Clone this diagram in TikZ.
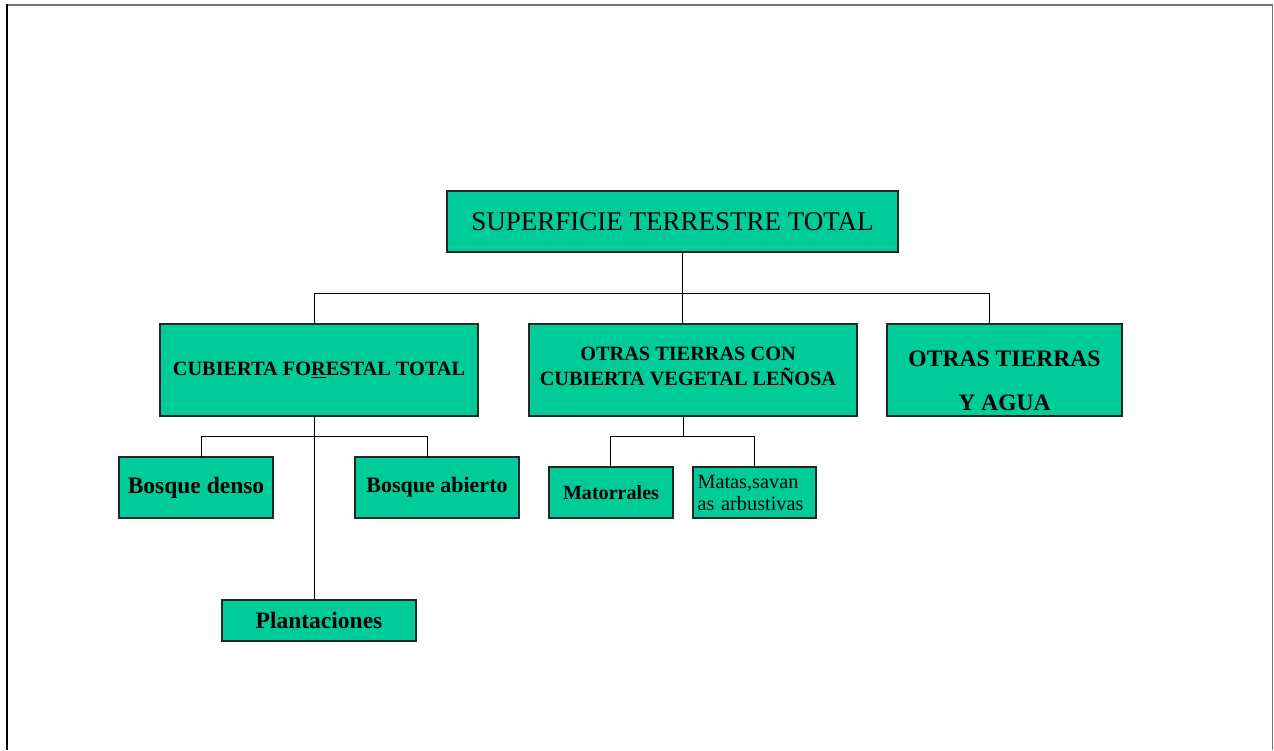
\documentclass[tikz,border=0pt]{standalone}
\usepackage{fontspec}
\setmainfont{Liberation Serif}
\definecolor{boxgreen}{RGB}{0,204,153}
\begin{document}
\begin{tikzpicture}[x=1pt,y=-1pt,
  box/.style={draw=black!85, line width=1.3pt, fill=boxgreen, inner sep=0pt, outer sep=0pt, align=center, text=black},
  conn/.style={draw=black, line width=1pt},
  frameside/.style={line width=1.5pt, draw=black!55},
  fs/.style 2 args={font=\fontsize{#1}{#2}\selectfont},
  bfs/.style 2 args={font=\fontsize{#1}{#2}\selectfont\bfseries}]
\useasboundingbox (0,0) rectangle (1274,750);
% outer frame
\draw[frameside] (7,5) -- (1272.5,5) -- (1272.5,750);
\draw[line width=2.2pt, draw=black] (7,4.3) -- (7,750);

% nodes
\node[box, fs={27}{32}, minimum width=451pt, minimum height=61pt] (root) at (672.5,221.5) {SUPERFICIE TERRESTRE TOTAL};
\node[box, bfs={20.3}{25}, minimum width=318pt, minimum height=92pt] (c1) at (319,370) {CUBIERTA FO\underline{R}ESTAL TOTAL};
\node[box, bfs={20.3}{25}, text height=30pt, text depth=0pt, minimum width=328pt, minimum height=92pt] (c2) at (693,370) {OTRAS TIERRAS CON\hspace*{10pt}\\CUBIERTA VEGETAL LEÑOSA\hspace*{10pt}};
\node[box, bfs={23.6}{44}, text height=80pt, text depth=0pt, minimum width=235pt, minimum height=92pt] (c3) at (1004.5,370) {OTRAS TIERRAS\\Y AGUA};
\node[box, bfs={23.5}{28}, minimum width=154pt, minimum height=61pt] (bd) at (196,487.5) {Bosque denso};
\node[box, bfs={22}{28}, minimum width=164pt, minimum height=61pt] (ba) at (437,487.5) {Bosque abierto};
\node[box, bfs={23.5}{28}, minimum width=194pt, minimum height=41pt] (pl) at (319,620.5) {Plantaciones};
\node[box, bfs={20.1}{24}, minimum width=124pt, minimum height=51pt] (mt) at (611,492.5) {Matorrales};
\node[box, fs={20.3}{22}, align=left, inner xsep=4.5pt, text width=114pt, minimum width=123pt, minimum height=51pt] (ms) at (754.5,492.5) {Matas,savan\\as arbustivas};

% connector junctions
\coordinate (jl) at (314,293);
\coordinate (jm) at (682,293);
\coordinate (jr) at (989,293);
\coordinate (ka) at (201,436);
\coordinate (kb) at (427,436);
\coordinate (kc) at (314,436);
\coordinate (ma) at (610,436);
\coordinate (mb) at (754,436);
\coordinate (mc) at (683,436);

% connectors
\draw[conn] (root.south -| jm) -- (c2.north -| jm);
\draw[conn] (c1.north -| jl) -- (jl) -- (jr) -- (c3.north -| jr);
\draw[conn] (c1.south -| kc) -- (pl.north -| kc);
\draw[conn] (bd.north -| ka) -- (ka) -- (kb) -- (ba.north -| kb);
\draw[conn] (c2.south -| mc) -- (mc);
\draw[conn] (mt.north -| ma) -- (ma) -- (mb) -- (ms.north -| mb);
\end{tikzpicture}
\end{document}
